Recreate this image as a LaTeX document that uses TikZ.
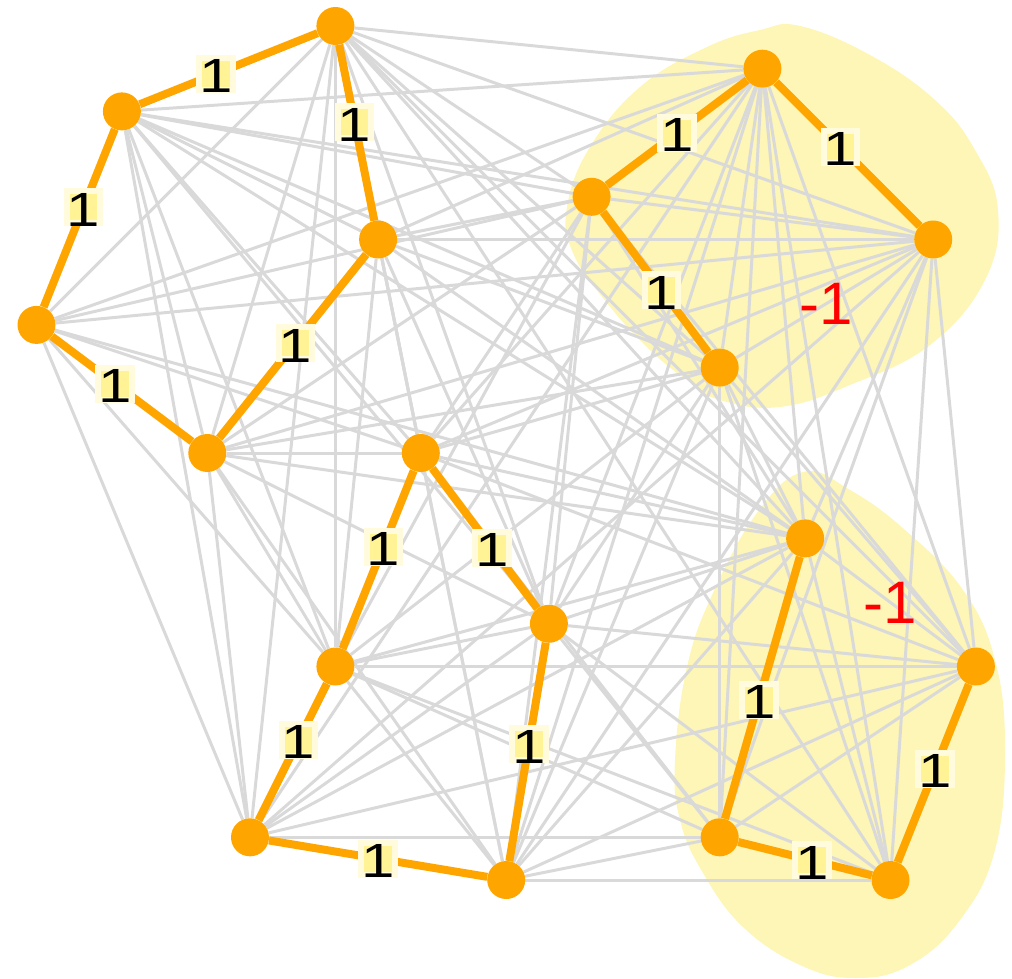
\documentclass[tikz,border=0pt]{standalone}
\usepackage{fontspec}
\setmainfont{Liberation Sans}
\usetikzlibrary{calc}
\definecolor{blobfill}{HTML}{FDF6B6}
\definecolor{lblin}{HTML}{FFF395}
\definecolor{lblout}{HTML}{FFFBDC}
\definecolor{edgegray}{HTML}{D9D9D9}
\definecolor{vorange}{HTML}{FFA500}
\pgfdeclarelayer{blobs}
\pgfdeclarelayer{grayl}
\pgfdeclarelayer{orangel}
\pgfsetlayers{blobs,grayl,orangel,main}
\tikzset{
  vtx/.style={circle, fill=vorange, minimum size=38pt, inner sep=0pt},
  ge/.style={draw=edgegray, line width=3pt},
  oe/.style={draw=vorange, line width=8pt},
  lbl/.style={fill=lblin, draw=lblout, line width=6pt, minimum width=32pt, minimum height=32pt, inner sep=0pt, font=\fontsize{48}{48}\selectfont},
  neg/.style={text=red, inner sep=0pt, font=\fontsize{60}{60}\selectfont},
  blob/.style={fill=blobfill, draw=none},
}
\newcommand\lone{\smash{\raisebox{-19pt}{\scalebox{1.25}[1]{1}}}}
\begin{document}
\begin{tikzpicture}[x=1pt,y=-1pt]
\useasboundingbox (0,0) rectangle (1012,979);
% vertices
\foreach \n/\gx/\gy in {A/7/0,B/2/2,C/0/7,D/8/5,E/4/10,F/9/10,G/7/15,H/5/19,I/12/14,J/11/20,K/17/1,L/13/4,M/21/5,N/16/8,O/18/12,P/22/15,Q/16/19,R/20/20}
  \node[vtx] (\n) at ({36.5+42.7*\gx},{26+42.7*\gy}) {};
% blobs
\begin{pgfonlayer}{blobs}
\fill[blob] plot[smooth cycle, tension=0.7] coordinates {(800,26) (870,55) (935,100) (975,150) (998,210) (985,280) (930,345) (850,385) (780,407) (720,400) (687,380) (650,350) (607,303) (573,253) (567,207) (590,147) (640,87) (707,47) (760,30)};
\fill[blob] plot[smooth cycle, tension=0.7] coordinates {(803,472) (850,490) (905,530) (963,590) (995,660) (1005,750) (995,850) (960,920) (910,965) (855,978) (800,965) (743,927) (703,873) (680,820) (675,760) (687,667) (713,593) (757,513)};
\end{pgfonlayer}
% gray edges
\begin{pgfonlayer}{grayl}
\foreach \a/\b in {A/K,A/M,A/C,A/H,A/G,A/E,A/L,A/N,A/O,A/P,A/R,A/I,A/F,
  B/D,B/E,B/L,B/K,B/M,B/N,B/F,B/I,B/G,B/O,B/H,
  C/K,C/L,C/M,C/F,C/O,C/H,C/G,
  D/L,D/K,D/M,D/N,D/F,D/G,D/I,D/J,D/O,
  E/F,E/G,E/I,E/H,E/J,E/L,E/N,E/O,E/M,
  F/L,F/N,F/O,F/P,F/M,F/K,F/J,F/Q,
  G/I,G/J,G/L,G/N,G/O,G/P,G/Q,G/R,
  H/K,H/O,H/P,H/Q,H/I,H/M,
  I/K,I/L,I/N,I/O,I/P,I/Q,I/R,
  J/K,J/L,J/N,J/O,J/P,J/Q,J/R,J/M,
  K/N,K/O,K/P,K/R,K/Q,
  L/M,L/O,L/P,
  M/N,M/O,M/Q,M/R,M/P,
  N/O,N/Q,N/R,N/P,
  O/P,O/R,P/Q}
  \draw[ge] (\a) -- (\b);
\end{pgfonlayer}
% orange edges
\begin{pgfonlayer}{orangel}
\foreach \a/\b in {A/B,A/D,B/C,C/E,D/E,F/G,F/I,G/H,I/J,H/J,L/K,K/M,L/N,O/Q,Q/R,P/R}
  \draw[oe] (\a) -- (\b);
\end{pgfonlayer}
% labels
\foreach \a/\b/\t [count=\i] in {A/B/0.56,A/D/0.45,B/C/0.45,C/E/0.46,D/E/0.485,F/G/0.44,F/I/0.556,G/H/0.43,I/J/0.47,H/J/0.5,L/K/0.5,K/M/0.456,L/N/0.547,O/Q/0.54,Q/R/0.54,P/R/0.48}
  \node[lbl] (l\i) at ($(\a)!\t!(\b)$) {\lone};
\node[neg] (n1) at ($(M)!0.5!(N)$) {-1};
\node[neg] (n2) at ($(O)!0.5!(P)$) {-1};
\end{tikzpicture}
\end{document}
